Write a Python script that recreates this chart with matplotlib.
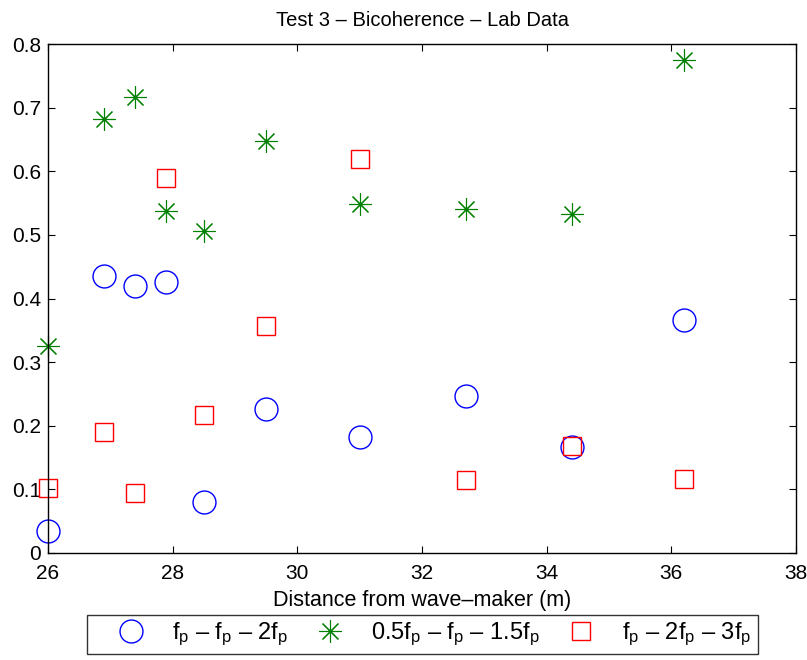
import matplotlib
matplotlib.use("Agg")
import matplotlib.pyplot as plt

plt.rcParams['font.family'] = ['Liberation Sans', 'DejaVu Sans']
plt.rcParams['mathtext.fontset'] = 'custom'
plt.rcParams['mathtext.rm'] = 'Liberation Sans'
plt.rcParams['mathtext.it'] = 'Liberation Sans'

distance = [26.0, 26.9, 27.4, 27.9, 28.5, 29.5, 31.0, 32.7, 34.4, 36.2]
bic_fp_fp_2fp = [0.034, 0.436, 0.420, 0.426, 0.080, 0.227, 0.182, 0.247, 0.167, 0.366]
bic_05fp_fp_15fp = [0.325, 0.682, 0.717, 0.537, 0.506, 0.648, 0.549, 0.541, 0.533, 0.775]
bic_fp_2fp_3fp = [0.102, 0.190, 0.094, 0.589, 0.217, 0.357, 0.619, 0.115, 0.168, 0.116]

fp = r'$\mathregular{f_p}$'
dash = ' \u2013 '
labels = [fp + dash + fp + dash + '2' + fp,
          '0.5' + fp + dash + fp + dash + '1.5' + fp,
          fp + dash + '2' + fp + dash + '3' + fp]
x_ticks = [26, 28, 30, 32, 34, 36, 38]
y_ticks = [0, 0.1, 0.2, 0.3, 0.4, 0.5, 0.6, 0.7, 0.8]

fig = plt.figure(figsize=(8.07, 6.60), dpi=100)
ax = fig.add_axes([48/807, 1-553/660, (796-48)/807, (553-44)/660])

asterisk = (8, 2, 0)
h1, = ax.plot(distance, bic_fp_fp_2fp, linestyle='none', marker='o', markersize=16.5,
              markerfacecolor='none', markeredgecolor='#0000ff', markeredgewidth=1.0,
              clip_on=False)
h2, = ax.plot(distance, bic_05fp_fp_15fp, linestyle='none', marker=asterisk, markersize=16,
              markeredgecolor='#008000', markerfacecolor='none', markeredgewidth=0.8,
              clip_on=False)
h3, = ax.plot(distance, bic_fp_2fp_3fp, linestyle='none', marker='s', markersize=13,
              markerfacecolor='none', markeredgecolor='#ff0000', markeredgewidth=1.0,
              clip_on=False)

ax.set_xlim(26, 38)
ax.set_ylim(0, 0.8)
ax.set_xticks(x_ticks)
ax.set_xticklabels([str(t) for t in x_ticks])
ax.set_yticks(y_ticks)
ax.set_yticklabels(['0'] + [f'{t:.1f}' for t in y_ticks[1:]])
ax.tick_params(direction='in', length=5, width=0.8, top=True, right=True, labelsize=15)
ax.tick_params(axis='x', pad=8)
ax.tick_params(axis='y', pad=5)
for s in ax.spines.values():
    s.set_linewidth(1.0)

ax.set_title('Test 3 \u2013 Bicoherence \u2013 Lab Data', fontsize=14.5, pad=13)
ax.set_xlabel('Distance from wave\u2013maker (m)', fontsize=15.5, labelpad=5)

leg = fig.legend([h1, h2, h3], labels, loc='center',
                 bbox_to_anchor=(422.5/807, 1-634.5/660),
                 ncol=3, fontsize=17, frameon=True, fancybox=False,
                 edgecolor='black', borderpad=0.25, handlelength=3.2,
                 handletextpad=0.13, columnspacing=0.17, borderaxespad=0)
leg.get_frame().set_linewidth(1.0)

fig.savefig('out.png', dpi=100)
